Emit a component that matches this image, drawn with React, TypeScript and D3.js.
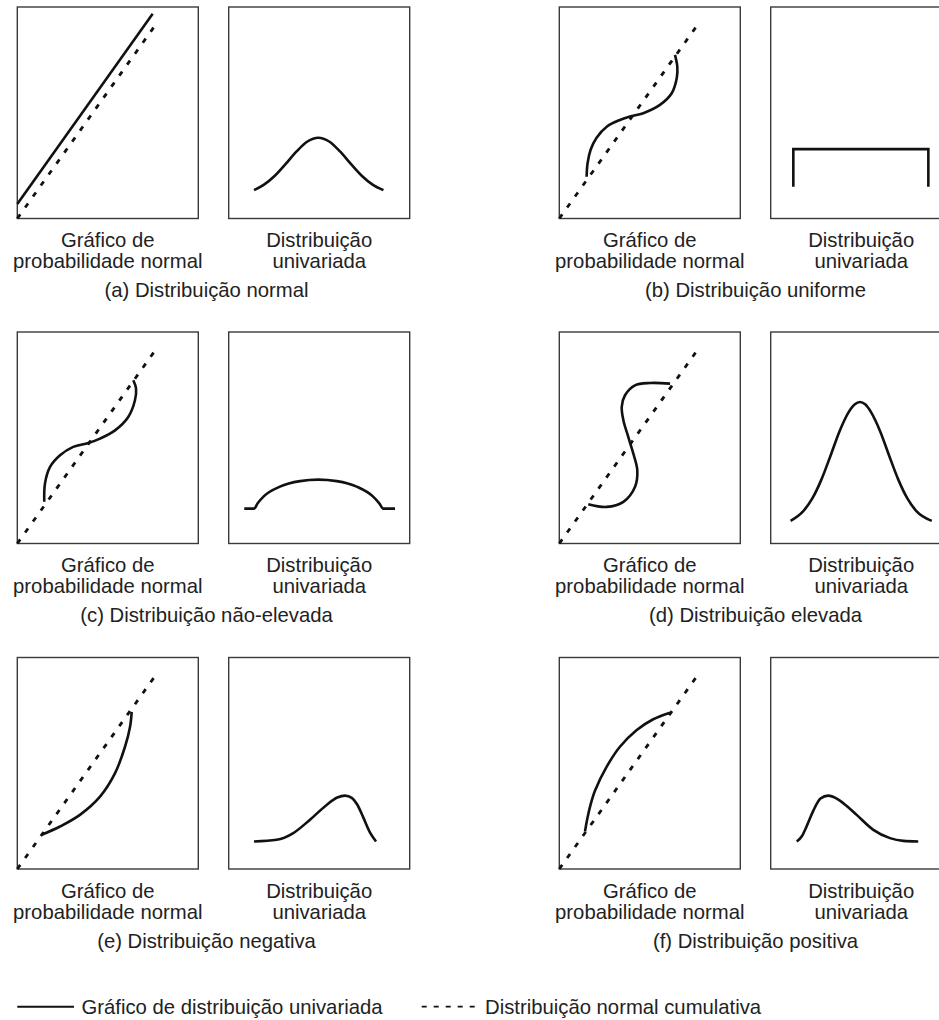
import React from "react";
import * as d3 from "d3";

type Pt = [number, number];

// ---- data (box-relative units 0..100, x left->right, y bottom->top) ----
const captions = [
  "(a) Distribuição normal",
  "(b) Distribuição uniforme",
  "(c) Distribuição não-elevada",
  "(d) Distribuição elevada",
  "(e) Distribuição negativa",
  "(f) Distribuição positiva",
];
const leftLabel = ["Gráfico de", "probabilidade normal"];
const rightLabel = ["Distribuição", "univariada"];
const legendLabels = ["Gráfico de distribuição univariada", "Distribuição normal cumulativa"];

const cumulativeNormal: Pt[] = [[0, 0], [78, 93.5]];

const probA: Pt[] = [[0, 6.8], [74.8, 96.8]];
const densA: Pt[] = [
  [14, 13.4], [19.5, 16.0], [25.5, 20.2], [31.5, 25.8], [37.5, 31.7], [43.5, 36.4], [49.5, 38.2],
  [55.5, 36.4], [61.5, 31.7], [67.5, 25.8], [73.5, 20.2], [79.5, 16.0], [85.5, 13.4],
];

const probB: Pt[] = [
  [15.1, 19.7], [15.6, 26.0], [17.3, 32.5], [20.6, 38.2], [26.2, 43.4], [33.5, 46.6], [39.1, 48.2], [46.4, 49.8],
  [55.6, 53.7], [62.1, 59.2], [64.9, 66.4], [65.2, 71.8], [63.9, 77.4],
];
const densB: Pt[] = [[12.5, 15], [12.5, 32.8], [87.1, 32.8], [87.1, 15]];

const probC: Pt[] = [
  [14.9, 19.7], [15.3, 28.4], [18.1, 36.2], [23.6, 41.7], [30.9, 45.7], [39.2, 47.5], [45.7, 49.6],
  [54.0, 53.5], [61.3, 59.8], [65.0, 67.7], [65.6, 73.3], [64.1, 77.2],
];
const densC: Pt[] = [
  [8.6, 16.5], [14.0, 16.5], [16.0, 19.0], [19.5, 22.4], [28.3, 26.9], [39.4, 29.5], [49.5, 30.2],
  [59.7, 29.5], [70.7, 26.9], [79.5, 22.4], [83.2, 19.0], [85.4, 16.5], [91.9, 16.5],
];

const probD: Pt[] = [
  [16.0, 18.6], [26.2, 17.3], [35.4, 19.7], [41.8, 26.7], [43.1, 34.6], [40.9, 42.5], [38.1, 50.4],
  [35.4, 58.3], [34.5, 64.6], [36.3, 70.1], [41.8, 74.8], [50.1, 75.9], [61.2, 75.6],
];
const densD: Pt[] = [
  [11, 10.7], [18, 15.3], [23, 21.3], [28, 30.2], [33, 41.4], [38, 53.0], [43, 62.0], [46.5, 65.8], [49.3, 66.9],
  [52.2, 65.8], [55.5, 62.0], [60.5, 53.0], [65.5, 41.4], [70.5, 30.2], [75.5, 21.3], [80.5, 15.3], [89, 10.7],
];

const probE: Pt[] = [
  [13.5, 16.2], [23.6, 20.1], [34.6, 25.6], [45.7, 34.2], [54.0, 45.3], [59.5, 57.8], [62.3, 67.3], [63.2, 74.3],
];
const densE: Pt[] = [
  [14.0, 13.0], [26.5, 13.8], [35.7, 17.0], [44.9, 23.3], [54.1, 30.3], [60, 33.8], [64.3, 34.7],
  [68.0, 33.6], [71.0, 30.5], [74.4, 24.3], [78.1, 17.2], [81.4, 13.0],
];

const probF: Pt[] = [
  [14.2, 17.7], [15.3, 23.0], [17.0, 29.5], [19.7, 37.0], [26.2, 48.4], [33.5, 57.8], [42.8, 65.7], [51.9, 70.8], [61.2, 73.9],
];
const densF: Pt[] = [
  [14.4, 13.0], [17.2, 15.5], [20.0, 20.5], [23.5, 27.5], [27.5, 33.3], [31.8, 34.7], [36.5, 33.3],
  [42.0, 29.8], [47.5, 25.6], [56.7, 18.5], [65.9, 14.6], [73.3, 13.3], [81.5, 13.0],
];

const probSeries = [probA, probB, probC, probD, probE, probF];
const densSeries = [densA, densB, densC, densD, densE, densF];

// ---- layout ----
const W = 939;
const H = 1020;
const colLeft = [17.3, 559.3];
const pairGap = 211.4;
const boxW = 181;
const boxH = 211.5;
const rowTop = [7, 332, 657.5];
const captionCenter = [206.5, 755.5];
const FONT = "'Liberation Sans', Arial, Helvetica, sans-serif";
const FS = 20.3;

function Box({ left, top, children }: { left: number; top: number; children?: React.ReactNode }) {
  return (
    <g>
      <rect x={left} y={top} width={boxW} height={boxH} fill="none" stroke="#3a3a3a" strokeWidth={1.4} />
      {children}
    </g>
  );
}

export default function App() {
  const panels = captions.map((cap, i) => {
    const col = i % 2;
    const row = Math.floor(i / 2);
    const l1 = colLeft[col];
    const l2 = l1 + pairGap;
    const top = rowTop[row];
    const bottom = top + boxH;
    const y = d3.scaleLinear().domain([0, 100]).range([bottom, top]);
    const x1 = d3.scaleLinear().domain([0, 100]).range([l1, l1 + boxW]);
    const x2 = d3.scaleLinear().domain([0, 100]).range([l2, l2 + boxW]);
    const smooth = d3.curveCatmullRom.alpha(0.5);
    const lineP = d3.line<Pt>().x((d) => x1(d[0])).y((d) => y(d[1])).curve(smooth);
    const lineRef = d3.line<Pt>().x((d) => x1(d[0])).y((d) => y(d[1]));
    const lineD = d3
      .line<Pt>()
      .x((d) => x2(d[0]))
      .y((d) => y(d[1]))
      .curve(i === 1 ? d3.curveLinear : d3.curveMonotoneX);
    return (
      <g key={i}>
        <Box left={l1} top={top}>
          <path d={lineRef(cumulativeNormal) || ""} fill="none" stroke="#111" strokeWidth={2.8} strokeDasharray="5,8.5" />
          <path d={lineP(probSeries[i]) || ""} fill="none" stroke="#111" strokeWidth={2.6} strokeLinejoin="round" />
        </Box>
        <Box left={l2} top={top}>
          <path d={lineD(densSeries[i]) || ""} fill="none" stroke="#111" strokeWidth={2.6} strokeLinejoin="miter" />
        </Box>
        <g fontFamily={FONT} fontSize={FS} fill="#222" textAnchor="middle">
          <text x={l1 + boxW / 2} y={bottom + 28.7}>{leftLabel[0]}</text>
          <text x={l1 + boxW / 2} y={bottom + 49.7}>{leftLabel[1]}</text>
          <text x={l2 + boxW / 2} y={bottom + 28.7}>{rightLabel[0]}</text>
          <text x={l2 + boxW / 2} y={bottom + 49.7}>{rightLabel[1]}</text>
          <text x={captionCenter[col]} y={bottom + 78.7}>{cap}</text>
        </g>
      </g>
    );
  });

  return (
    <svg
      width={W}
      height={H}
      viewBox={`0 0 ${W} ${H}`}
      style={{ position: "absolute", left: 0, top: 0, background: "#fff", overflow: "hidden" }}
    >
      <rect x={0} y={0} width={W} height={H} fill="#fff" />
      {panels}
      <g fontFamily={FONT} fontSize={FS} fill="#222">
        <line x1={17.3} x2={74} y1={1006.7} y2={1006.7} stroke="#111" strokeWidth={2} />
        <text x={81.5} y={1013.8}>{legendLabels[0]}</text>
        <line x1={421.7} x2={479} y1={1006.7} y2={1006.7} stroke="#111" strokeWidth={1.8} strokeDasharray="5,7" />
        <text x={485} y={1013.8}>{legendLabels[1]}</text>
      </g>
    </svg>
  );
}
